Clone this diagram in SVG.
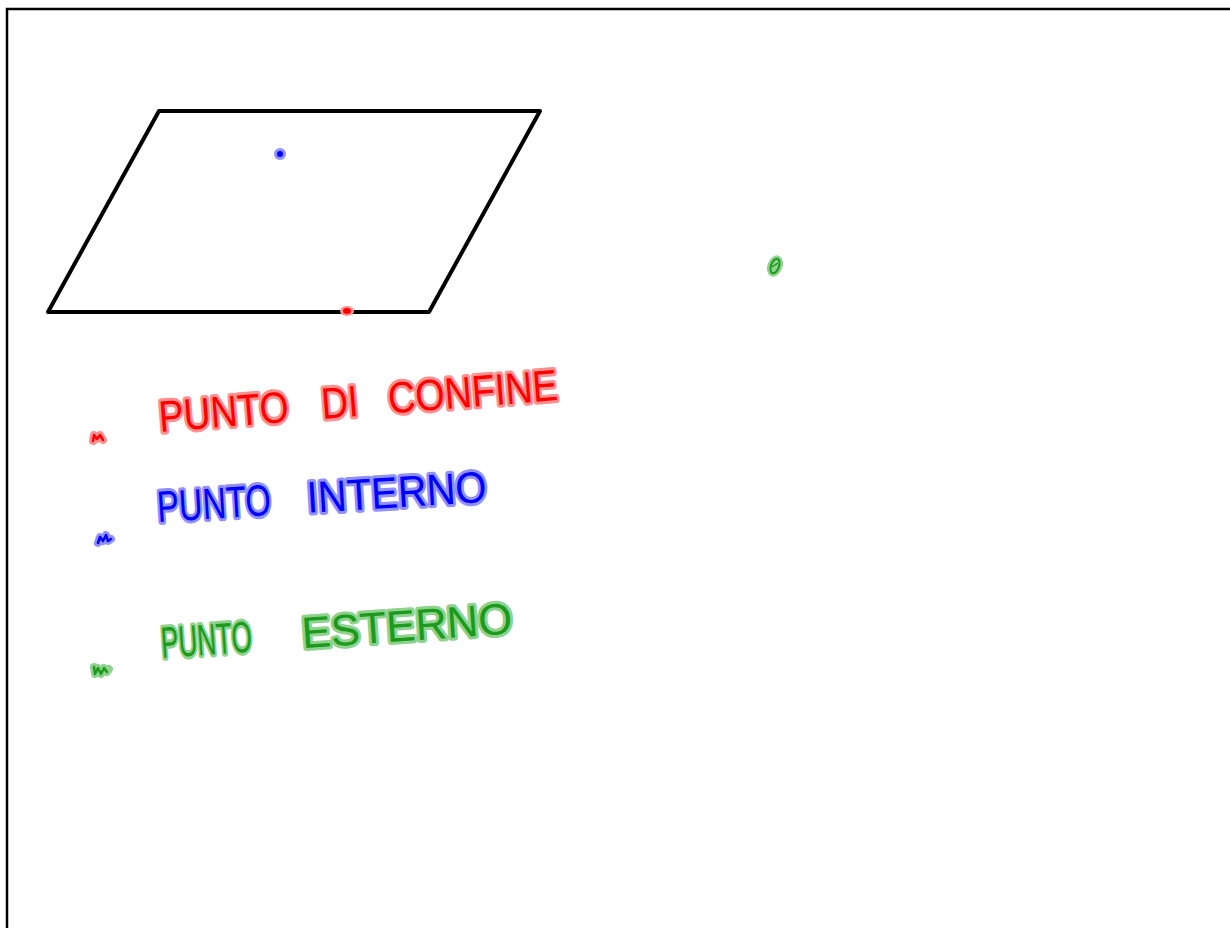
<svg xmlns="http://www.w3.org/2000/svg" width="1230" height="928" viewBox="0 0 1230 928">
<style>
.hand{font-family:"Liberation Sans",Arial,sans-serif;font-size:44px;paint-order:stroke;stroke-linejoin:round;stroke-width:6px}
.r{fill:#ff0000;stroke:#ff9090}
.b{fill:#0000ff;stroke:#9090ff}
.g{fill:#1c9a1c;stroke:#8ed28e}
.dot{stroke-linecap:round;stroke-linejoin:round;fill:none}
</style>
<rect width="1230" height="928" fill="#ffffff"/>
<path d="M7,928 V9 H1230" fill="none" stroke="#000" stroke-width="2.5"/>
<g id="parallelogram">
<polygon points="159,111 540,111 429,312 48,312" fill="none" stroke="#000" stroke-width="4" stroke-linejoin="round"/>
</g>
<g id="point-interno">
<ellipse cx="280" cy="154" rx="6" ry="6" fill="#9090ff"/>
<ellipse cx="280" cy="154" rx="3" ry="3" fill="#0000ff"/>
</g>
<g id="point-confine">
<ellipse cx="347" cy="311" rx="7" ry="5" fill="#ff9090"/>
<ellipse cx="347" cy="311" rx="4" ry="3" fill="#ff0000"/>
</g>
<g id="point-esterno">
<ellipse cx="775" cy="266" rx="7.5" ry="11" transform="rotate(20 775 266)" fill="#8ed28e"/>
<ellipse cx="775" cy="266" rx="4" ry="7.5" transform="rotate(20 775 266)" fill="none" stroke="#1c9a1c" stroke-width="2"/>
<path d="M772,267 L778,263" stroke="#1c9a1c" stroke-width="1.5"/>
</g>
<g id="legend-confine">
<path class="dot" d="M93,441 L94,435 L97,439 L100,435 L103,440" stroke="#ff9090" stroke-width="8"/>
<path class="dot" d="M93,441 L94,435 L97,439 L100,435 L103,440" stroke="#ff0000" stroke-width="2.5"/>
<g class="hand r" transform="rotate(-4.6 160 432)">
<text x="160" y="432" textLength="130" lengthAdjust="spacingAndGlyphs">PUNTO</text>
<text x="323" y="432" textLength="37" lengthAdjust="spacingAndGlyphs">DI</text>
<text x="390" y="432" textLength="170" lengthAdjust="spacingAndGlyphs">CONFINE</text>
</g>
</g>
<g id="legend-interno">
<path class="dot" d="M98,543 L100,537 L103,541 L106,535 L108,541 L111,539" stroke="#9090ff" stroke-width="8"/>
<path class="dot" d="M98,543 L100,537 L103,541 L106,535 L108,541 L111,539" stroke="#0000ff" stroke-width="2.5"/>
<g class="hand b" transform="rotate(-3.5 158 522)">
<text x="158" y="522" textLength="114" lengthAdjust="spacingAndGlyphs">PUNTO</text>
<text x="308" y="522" textLength="180" lengthAdjust="spacingAndGlyphs">INTERNO</text>
</g>
</g>
<g id="legend-esterno">
<path class="dot" d="M94,667 L95,674 L98,668 L101,674 L104,668 L107,672 L109,669" stroke="#8ed28e" stroke-width="8"/>
<path class="dot" d="M94,667 L95,674 L98,668 L101,674 L104,668 L107,672" stroke="#1c9a1c" stroke-width="2.5"/>
<g class="hand g" transform="rotate(-4 162 658)">
<text x="162" y="658" textLength="91" lengthAdjust="spacingAndGlyphs">PUNTO</text>
<text x="303" y="658" textLength="211" lengthAdjust="spacingAndGlyphs">ESTERNO</text>
</g>
</g>
</svg>
